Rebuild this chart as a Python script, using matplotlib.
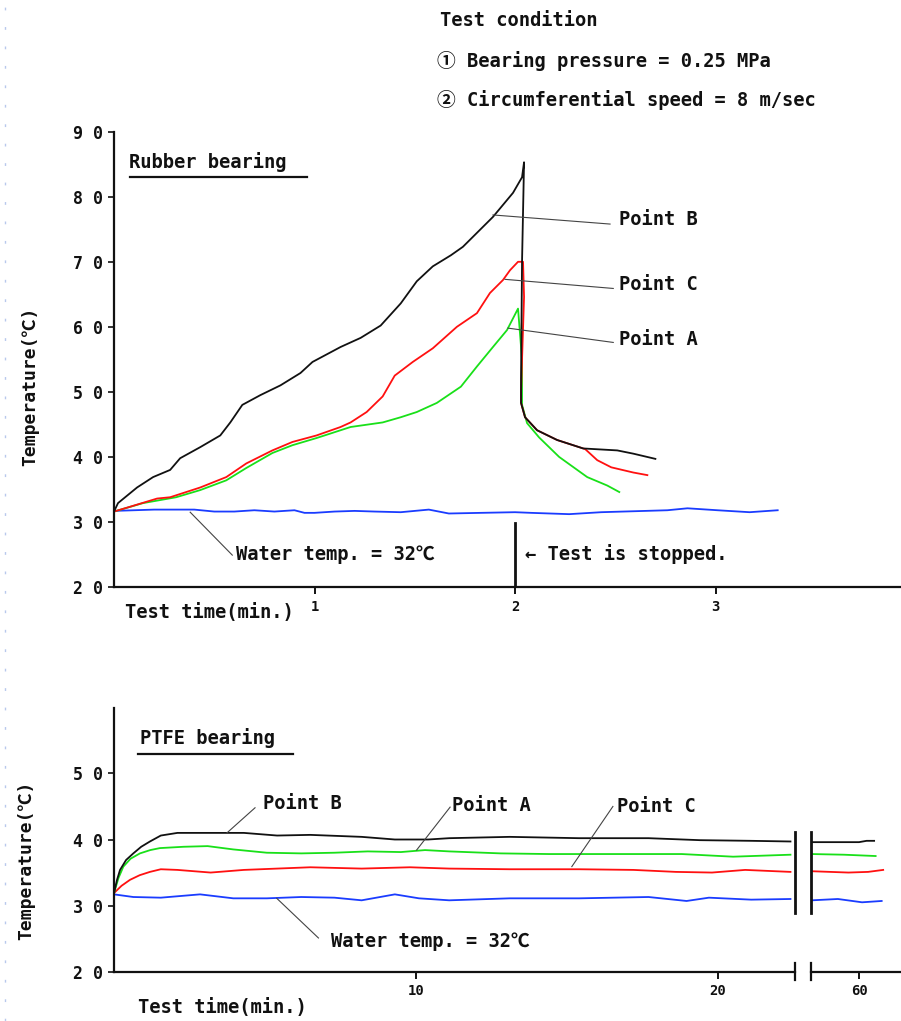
import matplotlib
matplotlib.use('Agg')
import matplotlib.pyplot as plt
from matplotlib.lines import Line2D

FONT = ['DejaVu Sans Mono', 'Noto Sans CJK JP', 'DejaVu Sans']
plt.rcParams['font.family'] = FONT
plt.rcParams['font.weight'] = 'semibold'

# ---------------- data: rubber bearing (time in min, temperature in degC)
rub_B_t = [0.0, 0.02, 0.115, 0.195, 0.28, 0.33, 0.43, 0.53, 0.58, 0.64, 0.73, 0.83, 0.93, 0.99, 1.13,
           1.23, 1.33, 1.43, 1.51, 1.59, 1.68, 1.74, 1.89, 1.99, 2.035, 2.045, 2.035, 2.03, 2.03,
           2.05, 2.11, 2.21, 2.34, 2.51, 2.59, 2.70]
rub_B_T = [31.6, 32.9, 35.3, 36.9, 38.0, 39.8, 41.5, 43.3, 45.3, 48.0, 49.5, 51.0, 52.9, 54.6, 56.9,
           58.3, 60.2, 63.6, 67.0, 69.3, 71.0, 72.3, 76.9, 80.6, 83.0, 85.3, 70.0, 52.0, 48.3,
           46.1, 44.1, 42.6, 41.3, 41.0, 40.5, 39.7]
rub_C_t = [0.0, 0.065, 0.215, 0.28, 0.43, 0.56, 0.66, 0.79, 0.89, 1.01, 1.13, 1.18, 1.26, 1.34, 1.37,
           1.40, 1.49, 1.59, 1.71, 1.81, 1.875, 1.94, 1.975, 2.015, 2.04, 2.045, 2.035, 2.03, 2.03,
           2.05, 2.11, 2.21, 2.35, 2.41, 2.48, 2.59, 2.66]
rub_C_T = [31.6, 32.2, 33.6, 33.8, 35.3, 36.9, 39.0, 41.0, 42.3, 43.3, 44.6, 45.3, 46.9, 49.3, 50.9,
           52.5, 54.6, 56.7, 60.0, 62.1, 65.2, 67.2, 68.7, 70.0, 70.0, 64.6, 55.0, 50.0, 48.3,
           46.1, 44.1, 42.6, 41.2, 39.5, 38.4, 37.6, 37.2]
rub_A_t = [0.0, 0.145, 0.31, 0.43, 0.56, 0.66, 0.79, 0.89, 1.01, 1.13, 1.18, 1.34, 1.43, 1.51, 1.61,
           1.73, 1.81, 1.89, 1.96, 2.015, 2.035, 2.035, 2.06, 2.12, 2.22, 2.36, 2.46, 2.52]
rub_A_T = [31.6, 32.9, 33.8, 34.9, 36.4, 38.3, 40.6, 41.8, 42.9, 44.1, 44.6, 45.3, 46.1, 46.9, 48.3,
           50.8, 53.9, 56.9, 59.5, 62.8, 55.0, 48.0, 45.2, 43.0, 40.0, 36.9, 35.6, 34.6]
rub_W_t = [0.0, 0.2, 0.4, 0.5, 0.6, 0.7, 0.8, 0.9, 0.95, 1.0, 1.1, 1.2, 1.3, 1.43, 1.57, 1.67, 1.83,
           2.0, 2.08, 2.27, 2.43, 2.76, 2.86, 3.01, 3.17, 3.31]
rub_W_T = [31.7, 31.9, 31.9, 31.6, 31.6, 31.8, 31.6, 31.8, 31.4, 31.4, 31.6, 31.7, 31.6, 31.5, 31.9,
           31.3, 31.4, 31.5, 31.4, 31.2, 31.5, 31.8, 32.1, 31.8, 31.5, 31.8]

# ---------------- data: PTFE bearing (time in min, temperature in degC)
ptfe_B_t = [0, 0.1, 0.2, 0.4, 0.64, 0.9, 1.19, 1.55, 2.1, 3.2, 4.3, 5.4, 6.5, 8.2, 9.3, 10.4, 11.1,
            13.1, 15.4, 17.7, 19.4, 21.1, 22.4]
ptfe_B_T = [31.9, 33.9, 35.4, 36.9, 37.9, 38.9, 39.7, 40.6, 41.0, 41.0, 41.0, 40.6, 40.7, 40.4, 40.0,
            40.0, 40.2, 40.4, 40.2, 40.2, 39.9, 39.8, 39.7]
ptfe_A_t = [0, 0.15, 0.31, 0.55, 0.86, 1.2, 1.52, 2.3, 3.1, 3.95, 5.06, 6.2, 7.3, 8.4, 9.5, 10.3, 11.1,
            12.8, 14.4, 16.6, 18.8, 20.5, 22.4]
ptfe_A_T = [31.9, 34.2, 35.9, 37.1, 37.9, 38.4, 38.7, 38.9, 39.0, 38.5, 38.0, 37.9, 38.0, 38.2, 38.1,
            38.4, 38.2, 37.9, 37.8, 37.8, 37.8, 37.4, 37.7]
ptfe_C_t = [0, 0.25, 0.53, 0.85, 1.19, 1.55, 2.1, 3.2, 4.3, 5.4, 6.5, 8.2, 9.8, 11.1, 13.1, 15.4, 17.2,
            18.6, 19.8, 20.9, 22.4]
ptfe_C_T = [31.9, 33.0, 33.9, 34.6, 35.1, 35.5, 35.4, 35.0, 35.4, 35.6, 35.8, 35.6, 35.8, 35.6, 35.5,
            35.5, 35.4, 35.1, 35.0, 35.4, 35.1]
ptfe_W_t = [0, 0.64, 1.55, 2.85, 3.95, 5.06, 6.2, 7.3, 8.2, 9.3, 10.1, 11.1, 13.1, 15.4, 17.7, 18.96,
            19.7, 21.1, 22.4]
ptfe_W_T = [31.7, 31.3, 31.2, 31.7, 31.1, 31.1, 31.3, 31.2, 30.8, 31.7, 31.1, 30.8, 31.1, 31.1, 31.3,
            30.7, 31.2, 30.9, 31.0]
# after the axis break (around 60 min)
ptfe60_B_t = [58.44, 59.3, 60.0, 60.25, 60.5]
ptfe60_B_T = [39.6, 39.6, 39.6, 39.8, 39.8]
ptfe60_A_t = [58.44, 59.5, 60.55]
ptfe60_A_T = [37.8, 37.7, 37.5]
ptfe60_C_t = [58.44, 59.65, 60.3, 60.8]
ptfe60_C_T = [35.2, 35.0, 35.1, 35.4]
ptfe60_W_t = [58.44, 59.3, 60.1, 60.75]
ptfe60_W_T = [30.8, 31.0, 30.5, 30.7]

rub_yticks = [20, 30, 40, 50, 60, 70, 80, 90]
rub_xticks = [1, 2, 3]
ptfe_yticks = [20, 30, 40, 50]
ptfe_xticks = [10, 20]
ptfe60_xticks = [60]

BLACK = '#111111'
RED = '#ff1010'
GREEN = '#19e019'
BLUE = '#1a3cff'
GRAY = '#444444'
LW = 1.3

W, H = 901, 1021
fig = plt.figure(figsize=(W / 100, H / 100), dpi=100)


def frac(x0, y0, x1, y1):
    return [x0 / W, 1 - y1 / H, (x1 - x0) / W, (y1 - y0) / H]


def spaced(v):
    return ' '.join(str(v))


def style_axis(ax):
    for s in ['top', 'right']:
        ax.spines[s].set_visible(False)
    for s in ['left', 'bottom']:
        ax.spines[s].set_linewidth(1.6)
        ax.spines[s].set_color('#111111')
    ax.tick_params(axis='y', direction='out', length=4, width=1.2, labelsize=12, pad=4,
                   colors='#111111')
    ax.tick_params(axis='x', direction='out', length=5, width=1.4, labelsize=10, pad=4,
                   colors='#111111')


# ---------------- top panel: rubber bearing
ax1 = fig.add_axes(frac(114, 131.7, 901, 587))
style_axis(ax1)
ax1.set_xlim(0, 3.925)
ax1.set_ylim(20, 90)
ax1.set_yticks(rub_yticks)
ax1.set_yticklabels([spaced(v) for v in rub_yticks])
ax1.set_xticks(rub_xticks)
ax1.set_xticklabels([str(v) for v in rub_xticks])

ax1.plot(rub_W_t, rub_W_T, color=BLUE, lw=LW)
ax1.plot(rub_A_t, rub_A_T, color=GREEN, lw=LW)
ax1.plot(rub_C_t, rub_C_T, color=RED, lw=LW)
ax1.plot(rub_B_t, rub_B_T, color=BLACK, lw=LW)

# callouts
ax1.plot([1.89, 2.474], [77.2, 75.8], color=GRAY, lw=0.8)
ax1.plot([1.95, 2.49], [67.3, 65.9], color=GRAY, lw=0.8)
ax1.plot([1.965, 2.49], [59.8, 57.6], color=GRAY, lw=0.8)
ax1.plot([0.38, 0.59], [31.5, 24.9], color=GRAY, lw=0.8)
tkw = dict(fontsize=13.5, color='#111111', va='center', ha='left')
ax1.text(2.52, 76.5, 'Point B', **tkw)
ax1.text(2.52, 66.5, 'Point C', **tkw)
ax1.text(2.52, 58.0, 'Point A', **tkw)
ax1.text(0.61, 25.0, 'Water temp. = 32℃', **tkw)
ax1.plot([2.0, 2.0], [29.8, 20], color=BLACK, lw=2.0)
ax1.text(2.05, 25.0, '← Test is stopped.', **tkw)
ax1.text(0.075, 85.3, 'Rubber bearing', **tkw)
ax1.plot([0.08, 0.965], [83.1, 83.1], color=BLACK, lw=1.6)
ax1.text(0.055, 16.1, 'Test time(min.)', **tkw)

fig.text(30 / W, 1 - 386 / H, 'Temperature(℃)', rotation=90, fontsize=13, ha='center',
         va='center', color='#111111')

# header
fig.text(440 / W, 1 - 20 / H, 'Test condition', fontsize=13.5, va='center', color='#111111')
fig.text(437 / W, 1 - 61 / H, '① Bearing pressure = 0.25 MPa', fontsize=13.5, va='center',
         color='#111111')
fig.text(437 / W, 1 - 100 / H, '② Circumferential speed = 8 m/sec', fontsize=13.5,
         va='center', color='#111111')

# ---------------- bottom panel: PTFE bearing (broken x axis)
ax2 = fig.add_axes(frac(114, 708.3, 795, 971.7))
style_axis(ax2)
ax2.set_xlim(0, 22.55)
ax2.set_ylim(20, 59.85)
ax2.set_yticks(ptfe_yticks)
ax2.set_yticklabels([spaced(v) for v in ptfe_yticks])
ax2.set_xticks(ptfe_xticks)
ax2.set_xticklabels([str(v) for v in ptfe_xticks])

ax3 = fig.add_axes(frac(810.7, 708.3, 901, 971.7))
style_axis(ax3)
ax3.spines['left'].set_visible(False)
ax3.set_xlim(58.40, 61.39)
ax3.set_ylim(20, 59.85)
ax3.set_yticks([])
ax3.set_xticks(ptfe60_xticks)
ax3.set_xticklabels([str(v) for v in ptfe60_xticks])

ax2.plot(ptfe_W_t, ptfe_W_T, color=BLUE, lw=LW)
ax2.plot(ptfe_C_t, ptfe_C_T, color=RED, lw=LW)
ax2.plot(ptfe_A_t, ptfe_A_T, color=GREEN, lw=LW)
ax2.plot(ptfe_B_t, ptfe_B_T, color=BLACK, lw=LW)
ax3.plot(ptfe60_W_t, ptfe60_W_T, color=BLUE, lw=LW)
ax3.plot(ptfe60_C_t, ptfe60_C_T, color=RED, lw=LW)
ax3.plot(ptfe60_A_t, ptfe60_A_T, color=GREEN, lw=LW)
ax3.plot(ptfe60_B_t, ptfe60_B_T, color=BLACK, lw=LW)

# break marks
ax2.plot([22.55, 22.55], [28.9, 41.1], color=BLACK, lw=2.0, clip_on=False)
ax3.plot([58.40, 58.40], [28.9, 41.1], color=BLACK, lw=2.0, clip_on=False)
ax2.plot([22.55, 22.55], [18.7, 21.3], color=BLACK, lw=1.6, clip_on=False)
ax3.plot([58.40, 58.40], [18.7, 21.3], color=BLACK, lw=1.6, clip_on=False)

# callouts
ax2.plot([4.67, 3.74], [44.8, 41.0], color=GRAY, lw=0.8)
ax2.plot([11.13, 10.02], [44.9, 38.4], color=GRAY, lw=0.8)
ax2.plot([16.52, 15.16], [45.0, 35.9], color=GRAY, lw=0.8)
ax2.plot([5.39, 6.77], [31.1, 25.1], color=GRAY, lw=0.8)
ax2.text(4.93, 45.5, 'Point B', **tkw)
ax2.text(11.2, 45.2, 'Point A', **tkw)
ax2.text(16.66, 45.0, 'Point C', **tkw)
ax2.text(7.2, 24.5, 'Water temp. = 32℃', **tkw)
ax2.text(0.85, 55.3, 'PTFE bearing', **tkw)
ax2.plot([0.8, 5.93], [53.0, 53.0], color=BLACK, lw=1.6)
ax2.text(0.8, 14.6, 'Test time(min.)', clip_on=False, **tkw)

fig.text(26 / W, 1 - 860 / H, 'Temperature(℃)', rotation=90, fontsize=13, ha='center',
         va='center', color='#111111')

# faint dotted page edge on the far left
fig.add_artist(Line2D([5 / W, 5 / W], [0, 1], color='#b8c8ec', lw=1.0,
                      linestyle=(0, (2, 12))))

fig.savefig('out.png', dpi=100)
